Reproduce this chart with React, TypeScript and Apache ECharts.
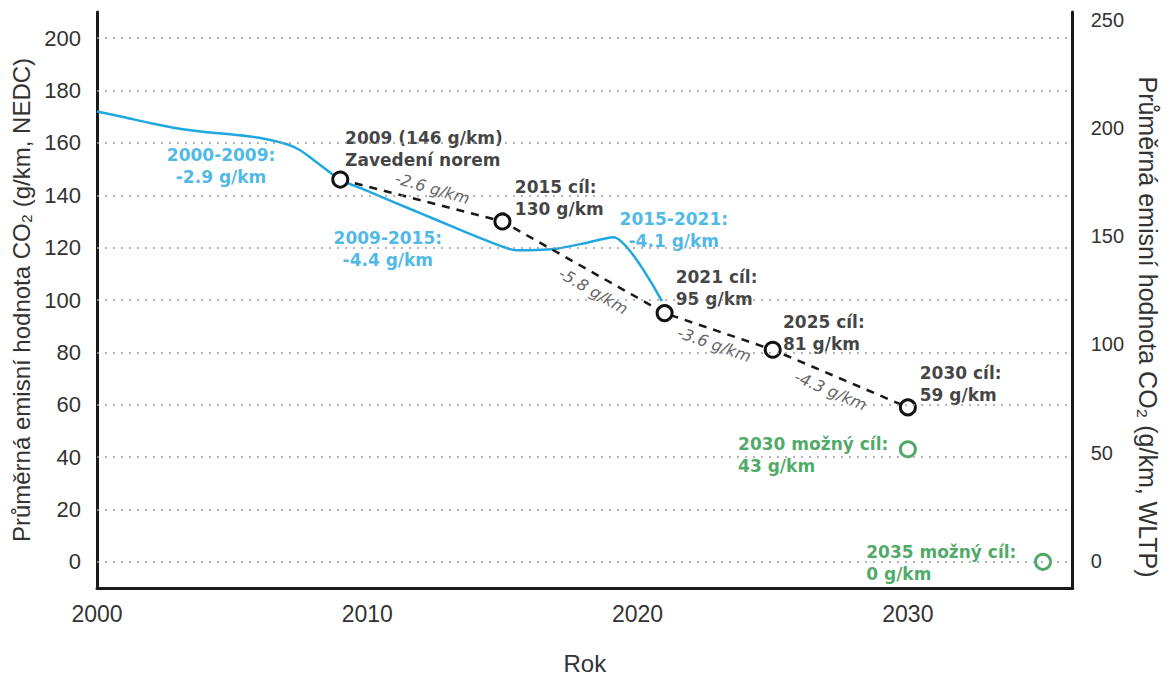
import React, { useEffect, useRef } from "react";
import * as echarts from "echarts";

// Historical average CO2 emissions (NEDC), g/km
const histYears = [2000, 2001, 2002, 2003, 2004, 2005, 2006, 2007, 2007.5, 2008, 2009, 2010, 2011, 2012, 2013, 2014, 2015, 2015.5, 2016.5, 2017, 2018, 2019.1, 2020.9];
const histValues = [172, 169.8, 167.5, 165.5, 164.2, 163.2, 162, 159.6, 157.3, 153.6, 146, 141.7, 137.3, 133, 128.7, 124.4, 120.4, 119, 119.2, 119.6, 121.6, 124, 99.6];

// EU targets
const targetYears = [2009, 2015, 2021, 2025, 2030];
const targetValues = [146, 130, 95, 81, 59];

// Possible future targets
const possibleYears = [2030, 2035];
const possibleValues = [43, 0];

// Axis ticks
const xTicks = [2000, 2010, 2020, 2030];
const leftTicks = [0, 20, 40, 60, 80, 100, 120, 140, 160, 180, 200];
const rightTicks = [0, 50, 100, 150, 200, 250];

// Text annotations anchored in data coordinates
const notes = [
  { text: "2000-2009:\n-2.9 g/km", year: 2004.59, value: 151, kind: "blue" },
  { text: "2009-2015:\n-4.4 g/km", year: 2010.76, value: 119.6, kind: "blue" },
  { text: "2015-2021:\n-4.1 g/km", year: 2021.34, value: 126.8, kind: "blue" },
  { text: "2009 (146 g/km)\nZavedení norem", year: 2009.18, value: 157.7, kind: "black" },
  { text: "2015 cíl:\n130 g/km", year: 2015.46, value: 138.9, kind: "black" },
  { text: "2021 cíl:\n95 g/km", year: 2021.41, value: 104.5, kind: "black" },
  { text: "2025 cíl:\n81 g/km", year: 2025.38, value: 87.5, kind: "black" },
  { text: "2030 cíl:\n59 g/km", year: 2030.44, value: 67.9, kind: "black" },
  { text: "2030 možný cíl:\n43 g/km", year: 2023.72, value: 40.8, kind: "green" },
  { text: "2035 možný cíl:\n0 g/km", year: 2028.46, value: -0.4, kind: "green" },
];

const slopeTexts = ["-2.6 g/km", "-5.8 g/km", "-3.6 g/km", "-4.3 g/km"];
const slopeYears = [2012.41, 2018.36, 2022.84, 2027.14];
const slopeValues = [142.6, 103.4, 83, 65.3];
const slopeAngles = [-16, -30, -19, -23];

const BLUE = "#1fa7e0";
const GREEN = "#1f9442";
const DARK = "#1a1a1a";

const kindStyle: Record<string, any> = {
  blue: { color: BLUE, align: "center" },
  black: { color: "#111", align: "left" },
  green: { color: GREEN, align: "left" },
};

export default function App() {
  const ref = useRef<HTMLDivElement>(null);

  useEffect(() => {
    if (!ref.current) return;
    const chart = echarts.init(ref.current, undefined, { renderer: "svg" });

    const noteData = notes.map((n) => ({
      value: [n.year, n.value],
      label: {
        show: true,
        position: "inside",
        formatter: n.text,
        color: kindStyle[n.kind].color,
        align: kindStyle[n.kind].align,
        verticalAlign: "middle",
        fontFamily: "DejaVu Sans",
        fontWeight: "bold",
        fontSize: 17,
        lineHeight: 22,
      },
    }));

    const slopeData = slopeTexts.map((t, i) => ({
      value: [slopeYears[i], slopeValues[i]],
      label: {
        show: true,
        position: "inside",
        formatter: t,
        color: "#3a3a3a",
        align: "center",
        verticalAlign: "middle",
        rotate: slopeAngles[i],
        fontFamily: "DejaVu Sans",
        fontStyle: "italic",
        fontSize: 16,
      },
    }));

    const axisLine = { show: true, onZero: false, lineStyle: { color: DARK, width: 3 } };
    const labelFont = { fontFamily: "Liberation Sans", fontSize: 22, color: "#333" };
    const nameFont = { fontFamily: "Liberation Sans", fontSize: 24, color: "#333" };

    chart.setOption({
      animation: false,
      grid: { left: 97, right: 88, top: 12, bottom: 85 },
      xAxis: {
        type: "value",
        min: 2000,
        max: 2036.1,
        interval: 10,
        name: "Rok",
        nameLocation: "middle",
        nameGap: 63,
        nameTextStyle: { fontFamily: "Liberation Sans", fontSize: 24, color: "#333" },
        axisLine,
        axisTick: { show: false },
        splitLine: { show: false },
        axisLabel: {
          ...labelFont,
          fontSize: 23,
          margin: 14,
          formatter: (v: number) => (xTicks.includes(v) ? String(v) : ""),
        },
      },
      yAxis: [
        {
          type: "value",
          position: "left",
          min: -10,
          max: 210,
          interval: 10,
          name: "Průměrná emisní hodnota CO₂ (g/km, NEDC)",
          nameLocation: "middle",
          nameGap: 63,
          nameTextStyle: nameFont,
          axisLine,
          axisTick: { show: false },
          splitLine: { show: false },
          axisLabel: {
            ...labelFont,
            margin: 16,
            formatter: (v: number) => (leftTicks.includes(v) ? String(v) : ""),
          },
        },
        {
          type: "value",
          position: "right",
          min: -12.5,
          max: 253.5,
          interval: 12.5,
          name: "Průměrná emisní hodnota CO₂ (g/km, WLTP)",
          nameLocation: "middle",
          nameRotate: -90,
          nameGap: 57,
          nameTextStyle: { ...nameFont, fontSize: 25, padding: [0, 0, 0, 54] },
          axisLine,
          axisTick: { show: false },
          splitLine: { show: false },
          axisLabel: {
            ...labelFont,
            fontSize: 20,
            margin: 18,
            formatter: (v: number) => (rightTicks.includes(v) ? String(v) : ""),
          },
        },
      ],
      series: [
        {
          name: "grid",
          type: "line",
          data: [],
          silent: true,
          z: 0,
          markLine: {
            silent: true,
            symbol: ["none", "none"],
            label: { show: false },
            lineStyle: { color: "#9a9a9a", width: 1.5, type: [2, 6] },
            data: leftTicks.map((v) => ({ yAxis: v })),
          },
        },
        {
          name: "history",
          type: "line",
          silent: true,
          smooth: 0.25,
          showSymbol: false,
          symbol: "none",
          lineStyle: { color: BLUE, width: 2.5 },
          data: histYears.map((y, i) => [y, histValues[i]]),
          z: 2,
        },
        {
          name: "targets",
          type: "line",
          silent: true,
          symbol: "circle",
          symbolSize: 15,
          itemStyle: { color: "#fff", borderColor: "#111", borderWidth: 3 },
          lineStyle: { color: DARK, width: 2.5, type: [8, 7] },
          data: targetYears.map((y, i) => [y, targetValues[i]]),
          z: 3,
        },
        {
          name: "possible",
          type: "scatter",
          silent: true,
          symbol: "circle",
          symbolSize: 15,
          itemStyle: { color: "#fff", borderColor: GREEN, borderWidth: 3 },
          data: possibleYears.map((y, i) => [y, possibleValues[i]]),
          z: 3,
        },
        {
          name: "notes",
          type: "scatter",
          silent: true,
          symbolSize: 1,
          itemStyle: { color: "rgba(0,0,0,0)" },
          data: [...noteData, ...slopeData],
          z: 4,
        },
      ],
    });

    return () => chart.dispose();
  }, []);

  return (
    <div
      ref={ref}
      style={{ position: "absolute", left: 0, top: 0, width: 1168, height: 680, background: "#fff" }}
    />
  );
}
